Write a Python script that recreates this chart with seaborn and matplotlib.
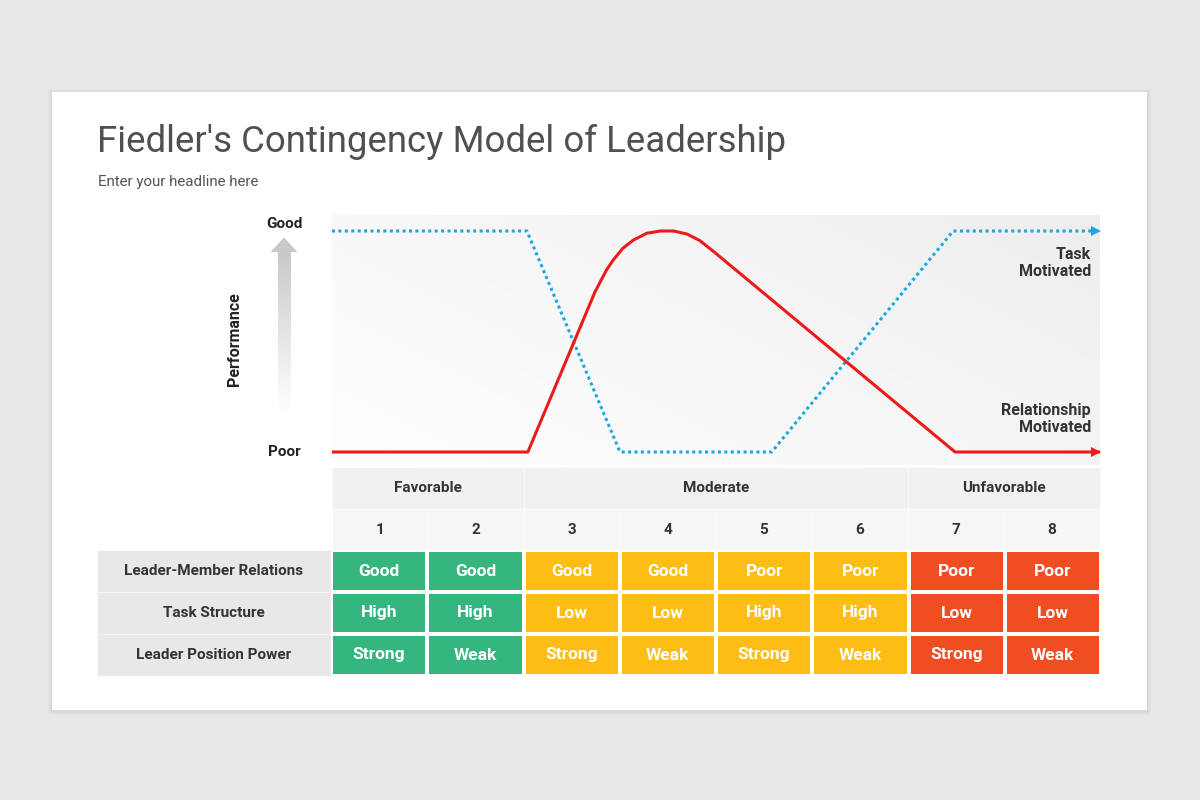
import numpy as np
import pandas as pd
import seaborn as sns
import matplotlib.pyplot as plt
from matplotlib.patches import Rectangle, Polygon
from matplotlib.colors import ListedColormap
from matplotlib import transforms

# ---- data ----
# x in "situation columns" (0..8), y in performance (0 = Poor, 1 = Good)
task_x = [0.0, 2.03, 3.0, 4.58, 6.47, 8.0]
task_y = [1.0, 1.0, 0.0, 0.0, 1.0, 1.0]

rel_x = [0.0, 2.04, 2.74, 2.86, 2.93, 3.03, 3.14, 3.28, 3.42, 3.56, 3.70,
         3.83, 3.97, 6.49, 8.0]
rel_y = [0.0, 0.0, 0.725, 0.824, 0.869, 0.922, 0.959, 0.990, 1.0, 1.0, 0.986,
         0.957, 0.909, 0.0, 0.0]

groups = ["Favorable", "Moderate", "Unfavorable"]
group_spans = [2, 4, 2]
situations = ["1", "2", "3", "4", "5", "6", "7", "8"]
row_labels = ["Leader-Member Relations", "Task Structure", "Leader Position Power"]
relations = ["Good", "Good", "Good", "Good", "Poor", "Poor", "Poor", "Poor"]
structure = ["High", "High", "Low", "Low", "High", "High", "Low", "Low"]
power = ["Strong", "Weak", "Strong", "Weak", "Strong", "Weak", "Strong", "Weak"]
zone = [0, 0, 1, 1, 1, 1, 2, 2]  # 0 favorable, 1 moderate, 2 unfavorable

sns.set_theme(style="white")
plt.rcParams['font.family'] = ['Roboto', 'DejaVu Sans']

W, H = 1200, 800
fig = plt.figure(figsize=(12, 8), dpi=100)
fig.patch.set_facecolor("#e9e8e9")


def frac(x0, y0, x1, y1):
    # pixel box (top-left origin) -> figure fraction rect
    return [x0 / W, 1 - y1 / H, (x1 - x0) / W, (y1 - y0) / H]


# ---- pixel overlay for card, headers, labels ----
bg = fig.add_axes([0, 0, 1, 1])
bg.set_xlim(0, W)
bg.set_ylim(H, 0)
bg.axis("off")
# soft card shadow
for k in range(4, 0, -1):
    bg.add_patch(Rectangle((52 - k, 92 - k + 1), 1095 + 2 * k, 618 + 2 * k,
                           color="#b0afb0", alpha=0.07, lw=0, zorder=0))
bg.add_patch(Rectangle((52, 92), 1095, 618, color="white", lw=0, zorder=1))

bg.text(97, 142, "Fiedler's Contingency Model of Leadership", fontsize=26.4,
        color="#505050", va="center", ha="left", zorder=3)
bg.text(98, 182, "Enter your headline here", fontsize=10.9,
        color="#555555", va="center", ha="left", zorder=3)

# performance arrow (gray gradient)
shaft = Polygon([(277.5, 251), (290.5, 251), (290.5, 414), (277.5, 414)], closed=True,
                facecolor="none", edgecolor="none")
head = Polygon([(270.5, 252), (284, 237.5), (297.5, 252)], closed=True,
               facecolor="#c9c9c9", edgecolor="none", zorder=3)
bg.add_patch(shaft)
bg.add_patch(head)
grad = np.linspace(0, 1, 200).reshape(-1, 1)
im = bg.imshow(grad, extent=[277.5, 290.5, 414, 251], cmap=ListedColormap(
    sns.blend_palette(["#c9c9c9", "#ffffff"], 64)), aspect="auto", zorder=3)
im.set_clip_path(shaft)

bg.text(284, 224, "Good", fontsize=11, fontweight="bold", color="#222222",
        ha="center", va="center", zorder=3)
bg.text(284, 452, "Poor", fontsize=11, fontweight="bold", color="#222222",
        ha="center", va="center", zorder=3)
bg.text(234, 339, "Performance", fontsize=11.5, fontweight="bold", color="#222222",
        rotation=90, ha="center", va="center", zorder=3)

# header rows
col_w = 96
x0 = 332
start = 0
for g, n in zip(groups, group_spans):
    gx = x0 + col_w * start
    bg.add_patch(Rectangle((gx + 1, 468), col_w * n - 2, 40, color="#f1f1f1", zorder=2))
    bg.text(gx + col_w * n / 2, 488, g, fontsize=11, fontweight="bold", color="#333333",
            ha="center", va="center", zorder=3)
    start += n
for i, s in enumerate(situations):
    cx = x0 + col_w * i
    bg.add_patch(Rectangle((cx + 1, 510), col_w - 2, 39, color="#f6f6f6", zorder=2))
    bg.text(cx + col_w / 2, 530, s, fontsize=11, fontweight="bold", color="#333333",
            ha="center", va="center", zorder=3)
for r, lab in enumerate(row_labels):
    ry = 551 + 42 * r
    bg.add_patch(Rectangle((98, ry), 232, 40, color="#e8e8e8", zorder=2))
    bg.text(214, ry + 20, lab, fontsize=11, fontweight="bold", color="#333333",
            ha="center", va="center", zorder=3)

# ---- colored situation cells (heatmap) ----
ax_t = fig.add_axes(frac(331, 550, 1101, 676))
codes = pd.DataFrame([zone, zone, zone], index=row_labels, columns=situations)
annots = np.array([relations, structure, power])
sns.heatmap(codes, ax=ax_t, cmap=ListedColormap(["#36b67f", "#fdbd14", "#f04d23"]),
            vmin=-0.5, vmax=2.5, cbar=False, annot=annots, fmt="",
            linewidths=1.6, linecolor="white",
            annot_kws=dict(color="white", fontsize=12.5, fontweight="bold"))
ax_t.set_xticks([])
ax_t.set_yticks([])
ax_t.set_xlabel("")
ax_t.set_ylabel("")

# ---- performance chart ----
ax = fig.add_axes(frac(332, 215, 1100, 465))
y_lo = -13 / 221
y_hi = 1 + 16 / 221
gx_, gy_ = np.meshgrid(np.linspace(0, 1, 200), np.linspace(0, 1, 100))
shade = 0.6 * gx_ + 0.4 * gy_
ax.imshow(shade, extent=[0, 8, y_lo, y_hi], origin="lower", aspect="auto",
          cmap=ListedColormap(sns.blend_palette(["#ffffff", "#eeeeee"], 128)), zorder=0)

task_df = pd.DataFrame({"x": task_x, "y": task_y})
rel_df = pd.DataFrame({"x": rel_x, "y": rel_y})
sns.lineplot(data=task_df, x="x", y="y", sort=False, estimator=None, ax=ax,
             color="#1aa7e4", linewidth=2.2, linestyle=(0, (1, 1.1)),
             dash_capstyle="butt", zorder=3)
sns.lineplot(data=rel_df, x="x", y="y", sort=False, estimator=None, ax=ax,
             color="#ec1b1b", linewidth=2.2, zorder=4)

shift = transforms.offset_copy(ax.transData, fig=fig, x=-4.5, y=0, units="dots")
ax.plot([task_x[-1]], [task_y[-1]], marker=">", ms=7, color="#1aa7e4",
        transform=shift, clip_on=False, zorder=5, mew=0)
ax.plot([rel_x[-1]], [rel_y[-1]], marker=">", ms=7, color="#ec1b1b",
        transform=shift, clip_on=False, zorder=5, mew=0)

ax.set_xlim(0, 8)
ax.set_ylim(y_lo, y_hi)
ax.axis("off")

fig.text(1091 / W, 1 - 263 / H, "Task\nMotivated", fontsize=11.5, fontweight="bold",
         color="#333333", ha="right", va="center", linespacing=1.15)
fig.text(1091 / W, 1 - 419 / H, "Relationship\nMotivated", fontsize=11.5,
         fontweight="bold", color="#333333", ha="right", va="center", linespacing=1.15)

fig.savefig("out.png", dpi=100, facecolor=fig.get_facecolor())
